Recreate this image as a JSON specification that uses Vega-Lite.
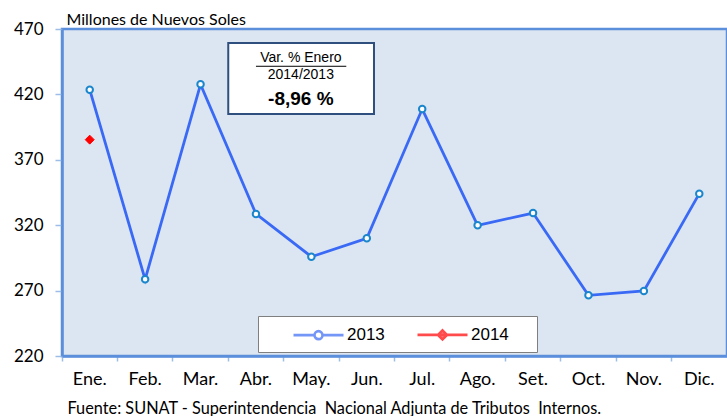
{
  "$schema": "https://vega.github.io/schema/vega-lite/v6.json",
  "width": 665,
  "height": 327,
  "autosize": {"type": "none"},
  "padding": {"left": 62, "top": 29, "right": 0, "bottom": 60},
  "background": "white",
  "config": {
    "view": {"fill": "#dce6f2", "stroke": "#5b8fdc", "strokeWidth": 2.5},
    "axis": {"labelFont": "Lato", "titleFont": "Lato", "labelColor": "black", "titleColor": "black", "grid": false},
    "legend": {"labelFont": "Liberation Sans"}
  },
  "data": {
    "values": [
      {"mes": "Ene.", "serie": "2013", "valor": 423.6},
      {"mes": "Feb.", "serie": "2013", "valor": 278.6},
      {"mes": "Mar.", "serie": "2013", "valor": 427.7},
      {"mes": "Abr.", "serie": "2013", "valor": 328.6},
      {"mes": "May.", "serie": "2013", "valor": 295.9},
      {"mes": "Jun.", "serie": "2013", "valor": 310.0},
      {"mes": "Jul.", "serie": "2013", "valor": 408.8},
      {"mes": "Ago.", "serie": "2013", "valor": 319.9},
      {"mes": "Set.", "serie": "2013", "valor": 329.3},
      {"mes": "Oct.", "serie": "2013", "valor": 266.4},
      {"mes": "Nov.", "serie": "2013", "valor": 269.7},
      {"mes": "Dic.", "serie": "2013", "valor": 344.1},
      {"mes": "Ene.", "serie": "2014", "valor": 385.4}
    ]
  },
  "encoding": {
    "x": {
      "field": "mes", "type": "ordinal", "sort": null,
      "scale": {"domain": ["Ene.", "Feb.", "Mar.", "Abr.", "May.", "Jun.", "Jul.", "Ago.", "Set.", "Oct.", "Nov.", "Dic."], "paddingInner": 0, "paddingOuter": 0},
      "axis": {
        "title": "Fuente: SUNAT - Superintendencia \u00a0Nacional Adjunta de Tributos \u00a0Internos.",
        "titleFontSize": 16.3, "titleFontWeight": "normal", "titleAnchor": "start", "titleAlign": "left",
        "titleX": 5, "titleY": 52, "titleBaseline": "middle",
        "labelAngle": 0, "labelFontSize": 18, "labelPadding": 9,
        "bandPosition": 0, "tickSize": 5, "tickColor": "#9dbde6", "tickWidth": 1.5,
        "domainColor": "#5b8fdc", "domainWidth": 2.5
      }
    },
    "y": {
      "field": "valor", "type": "quantitative",
      "scale": {"domain": [220, 470], "nice": false, "zero": false},
      "axis": {
        "values": [220, 270, 320, 370, 420, 470],
        "title": "Millones de Nuevos Soles", "titleAngle": 0, "titleFontSize": 16, "titleFontWeight": "normal",
        "titleAlign": "left", "titleBaseline": "middle", "titleX": 4, "titleY": -10,
        "labelFontSize": 17, "labelPadding": 12, "tickSize": 7, "tickColor": "#9dbde6", "tickWidth": 1.5,
        "domainColor": "#5b8fdc", "domainWidth": 2.5
      }
    }
  },
  "layer": [
    {
      "transform": [{"filter": "datum.serie == '2013'"}],
      "mark": {"type": "line", "color": "#3a6af5", "strokeWidth": 2.8}
    },
    {
      "transform": [{"filter": "datum.serie == '2013'"}],
      "mark": {"type": "point", "shape": "circle", "filled": true, "fill": "white", "stroke": "#1a86cc", "strokeWidth": 2, "size": 42, "opacity": 1}
    },
    {
      "transform": [{"filter": "datum.serie == '2014'"}],
      "mark": {"type": "point", "shape": "diamond", "filled": true, "fill": "#ff0000", "stroke": "#ff0000", "strokeWidth": 1, "size": 80, "opacity": 1}
    },
    {
      "transform": [{"filter": "false"}],
      "mark": {"type": "point", "filled": true},
      "encoding": {
        "shape": {
          "field": "serie", "type": "nominal",
          "scale": {"domain": ["2013", "2014"], "range": [
            "M1.7,0H3.8 M4.6,0H6.7 M3.8,0A0.4,0.4 0 1,0 4.6,0A0.4,0.4 0 1,0 3.8,0Z",
            "M1.7,0H6.7 M4.2,-0.45L4.65,0L4.2,0.45L3.75,0Z"
          ]},
          "legend": {
            "title": "\u00a0", "titleOrient": "right", "titlePadding": 21, "titleFontSize": 4,
            "orient": "none", "direction": "horizontal",
            "legendX": 196, "legendY": 287, "padding": 7,
            "fillColor": "white", "strokeColor": "#7f7f7f",
            "symbolSize": 400, "symbolStrokeWidth": 2.6, "labelOffset": 59, "columnPadding": 4,
            "labelFontSize": 17, "labelColor": "black"
          }
        },
        "fill": {"field": "serie", "type": "nominal", "scale": {"domain": ["2013", "2014"], "range": ["white", "#ff0000"]}, "legend": {"title": "\u00a0"}},
        "stroke": {"field": "serie", "type": "nominal", "scale": {"domain": ["2013", "2014"], "range": ["#3a6af5", "#ff0000"]}, "legend": {"title": "\u00a0"}}
      }
    },
    {
      "transform": [{"filter": "datum.serie == '2014'"}],
      "mark": {"type": "rect", "fill": "white", "stroke": "#2f4f7f", "strokeWidth": 2},
      "encoding": {
        "x": {"datum": "Abr.", "bandPosition": 0},
        "x2": {"datum": "Jun.", "bandPosition": 0.63},
        "y": {"datum": 459.3},
        "y2": {"datum": 405}
      }
    },
    {
      "transform": [{"filter": "datum.serie == '2014'"}],
      "mark": {"type": "text", "font": "Liberation Sans", "fontSize": 14, "color": "black", "baseline": "middle", "align": "center"},
      "encoding": {"x": {"datum": "May.", "bandPosition": 0.31}, "y": {"datum": 448.2}, "text": {"value": "Var. % Enero"}}
    },
    {
      "transform": [{"filter": "datum.serie == '2014'"}],
      "mark": {"type": "rule", "color": "black", "strokeWidth": 1},
      "encoding": {
        "x": {"datum": "Abr.", "bandPosition": 0.5},
        "x2": {"datum": "Jun.", "bandPosition": 0.13},
        "y": {"datum": 441.5}
      }
    },
    {
      "transform": [{"filter": "datum.serie == '2014'"}],
      "mark": {"type": "text", "font": "Liberation Sans", "fontSize": 14, "color": "black", "baseline": "middle", "align": "center"},
      "encoding": {"x": {"datum": "May.", "bandPosition": 0.31}, "y": {"datum": 435.2}, "text": {"value": "2014/2013"}}
    },
    {
      "transform": [{"filter": "datum.serie == '2014'"}],
      "mark": {"type": "text", "font": "Liberation Sans", "fontSize": 19, "fontWeight": "bold", "color": "black", "baseline": "middle", "align": "center"},
      "encoding": {"x": {"datum": "May.", "bandPosition": 0.31}, "y": {"datum": 416.5}, "text": {"value": "-8,96 %"}}
    }
  ]
}
